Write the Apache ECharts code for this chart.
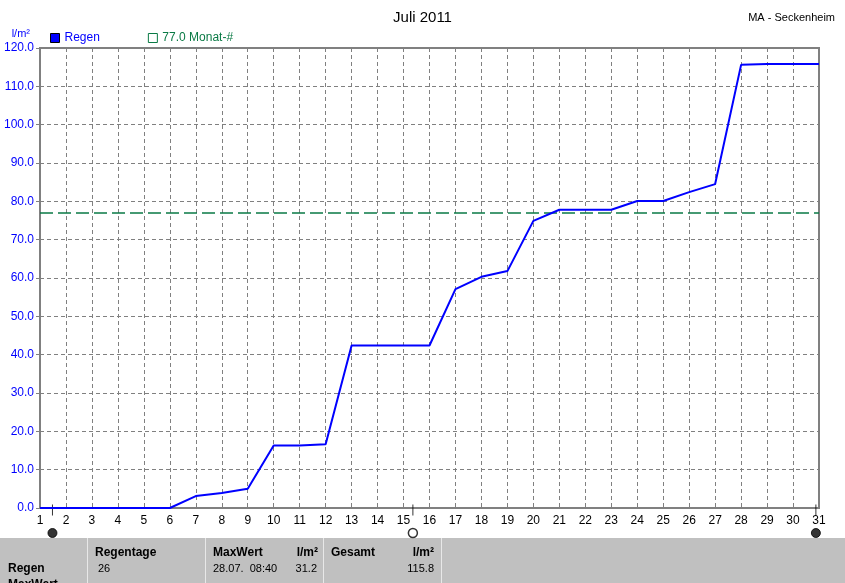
<!DOCTYPE html>
<html>
<head>
<meta charset="utf-8">
<script src="https://cdn.jsdelivr.net/npm/echarts@6/dist/echarts.min.js"></script>
<style>
  html, body { margin: 0; padding: 0; background: #fff; }
  #chart { width: 845px; height: 583px; }
</style>
</head>
<body>
<div id="chart"></div>
<script>
// Juli 2011, MA - Seckenheim, Regen kumuliert
const days = []
for (let d = 1; d <= 31; d++) days.push(d)
const regen = [0, 0, 0, 0, 0, 0, 3.1, 3.9, 5.0, 16.3, 16.3, 16.6, 42.4, 42.4, 42.4, 42.4,
  57.1, 60.3, 61.8, 74.9, 77.8, 77.8, 77.8, 80.1, 80.1, 82.4, 84.5, 115.6, 115.8, 115.8, 115.8]
const monatMittel = 77.0
// Mondphasen (Tag als Dezimalzahl)
const moonDays = [1.48, 15.36, 30.88]
const moonFull = [false, true, false]

const fontFam = 'Arial, "Liberation Sans", sans-serif'
const gray = '#808080'
const green = '#0a7a45'

const chart = echarts.init(document.getElementById('chart'))

const tableTexts = [
  { x: 8, y: 569, t: 'Regen', bold: true },
  { x: 8, y: 585, t: 'MaxWert', bold: true },
  { x: 95, y: 553, t: 'Regentage', bold: true },
  { x: 98, y: 569, t: '26' },
  { x: 213, y: 553, t: 'MaxWert', bold: true },
  { x: 213, y: 569, t: '28.07.  08:40' },
  { x: 318, y: 553, t: 'l/m²', bold: true, right: true },
  { x: 317, y: 569, t: '31.2', right: true },
  { x: 331, y: 553, t: 'Gesamt', bold: true },
  { x: 434, y: 553, t: 'l/m²', bold: true, right: true },
  { x: 434, y: 569, t: '115.8', right: true }
]

const graphics = [
  { type: 'rect', shape: { x: 0, y: 538, width: 845, height: 45 }, style: { fill: '#c0c0c0' }, silent: true }
]
;[87, 205, 323, 441].forEach(function(x) {
  graphics.push({ type: 'line', shape: { x1: x + 0.5, y1: 538, x2: x + 0.5, y2: 583 }, style: { stroke: '#e8e8e8', lineWidth: 1 } })
})
tableTexts.forEach(function(o) {
  graphics.push({
    type: 'text', x: o.x, y: o.y,
    style: {
      text: o.t,
      font: (o.bold ? 'bold 12px ' : '11px ') + fontFam,
      fill: '#000',
      textAlign: o.right ? 'right' : 'left',
      textVerticalAlign: 'middle'
    }
  })
})

chart.setOption({
  backgroundColor: '#fff',
  animation: false,
  title: [{
    text: 'Juli 2011',
    left: 'center',
    top: 5,
    textStyle: { fontFamily: fontFam, fontSize: 15, fontWeight: 'normal', color: '#000' }
  }, {
    text: 'MA - Seckenheim',
    right: 5,
    top: 7,
    textStyle: { fontFamily: fontFam, fontSize: 11, fontWeight: 'normal', color: '#000' }
  }],
  legend: {
    left: 50,
    top: 32,
    padding: 0,
    itemWidth: 9,
    itemHeight: 9,
    itemGap: 48,
    icon: 'rect',
    selectedMode: false,
    textStyle: { fontFamily: fontFam, fontSize: 12 },
    data: [
      { name: 'Regen', itemStyle: { color: '#0000ff', borderColor: '#000', borderWidth: 1 }, textStyle: { color: '#0000ff' } },
      { name: '77.0 Monat-#', itemStyle: { color: '#fff', borderColor: green, borderWidth: 1 }, textStyle: { color: green } }
    ]
  },
  grid: [{
    left: 40, right: 26, top: 48, bottom: 75,
    show: true, borderColor: gray, borderWidth: 2
  }, {
    left: 40, right: 26, top: 498, height: 40
  }],
  xAxis: [{
    type: 'value',
    min: 1, max: 31, interval: 1,
    axisLine: { show: false },
    axisTick: { show: false },
    axisLabel: { color: '#000', fontFamily: fontFam, fontSize: 12, margin: 7 },
    splitLine: { lineStyle: { color: gray, type: [4, 3], width: 1 } }
  }, {
    gridIndex: 1, type: 'value', min: 1, max: 31, show: false
  }],
  yAxis: [{
    type: 'value',
    min: 0, max: 120, interval: 10,
    name: 'l/m²',
    nameLocation: 'end',
    nameGap: 9,
    nameTextStyle: { color: '#0000ff', fontFamily: fontFam, fontSize: 11, align: 'right', padding: [0, 10, 0, 0] },
    axisLine: { show: false },
    axisTick: { show: true, length: 4, lineStyle: { color: gray } },
    axisLabel: {
      color: '#0000ff', fontFamily: fontFam, fontSize: 12, margin: 6,
      formatter: function(v) { return v.toFixed(1) }
    },
    splitLine: { lineStyle: { color: gray, type: [4, 3], width: 1 } }
  }, {
    gridIndex: 1, type: 'value', min: 0, max: 40, inverse: true, show: false
  }],
  series: [{
    name: 'Regen',
    type: 'line',
    showSymbol: false,
    data: days.map(function(d, i) { return [d, regen[i]] }),
    lineStyle: { color: '#0000ff', width: 2 },
    itemStyle: { color: '#0000ff' },
    z: 5
  }, {
    name: '77.0 Monat-#',
    type: 'line',
    data: [],
    itemStyle: { color: green },
    markLine: {
      silent: true,
      symbol: 'none',
      label: { show: false },
      lineStyle: { color: green, type: [13, 5], width: 1.5 },
      data: [{ yAxis: monatMittel }]
    },
    z: 4
  }, {
    type: 'scatter',
    xAxisIndex: 1, yAxisIndex: 1,
    symbol: 'rect',
    symbolSize: [1, 11],
    itemStyle: { color: '#000' },
    data: moonDays.map(function(d) { return [d, 12] }),
    silent: true
  }, {
    type: 'scatter',
    xAxisIndex: 1, yAxisIndex: 1,
    symbol: 'circle',
    symbolSize: 9,
    data: moonDays.map(function(d, i) {
      return {
        value: [d, 35],
        itemStyle: moonFull[i]
          ? { color: '#fff', borderColor: '#000', borderWidth: 1.5 }
          : { color: '#000', borderColor: '#000', borderWidth: 1 }
      }
    }),
    silent: true
  }],
  graphic: graphics
})
</script>
</body>
</html>
